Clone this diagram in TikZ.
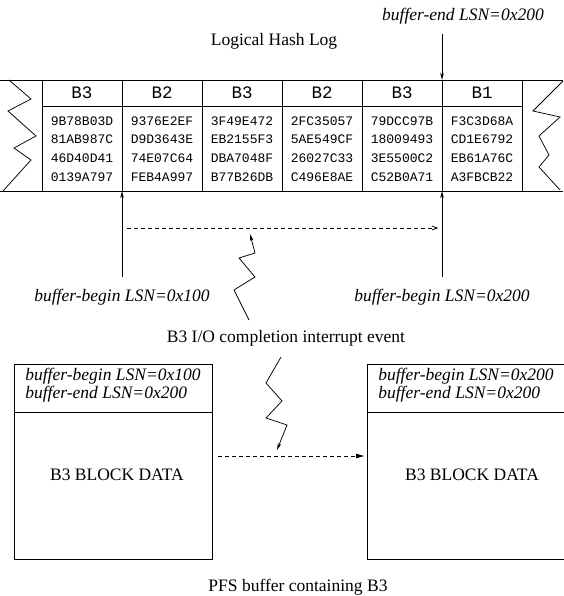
\documentclass[tikz,border=0pt]{standalone}
\usepackage{fontspec}
\setmainfont{Liberation Serif}
\newfontfamily\hexfont{Liberation Mono}
\usetikzlibrary{arrows.meta}
\begin{document}
\begin{tikzpicture}[x=1pt,y=-1pt,line width=0.75pt,
  txt/.style={font=\fontsize{17.5}{17.5}\selectfont,inner sep=0pt},
  itxt/.style={font=\fontsize{17.5}{17.5}\selectfont\itshape,inner sep=0pt},
  hdr/.style={font=\hexfont\fontsize{17.5}{17.5}\selectfont,inner sep=0pt},
  hex/.style={font=\hexfont\fontsize{13}{18.6}\selectfont,inner sep=0pt,align=center},
  openarrow/.style={-{Straight Barb[length=5pt,width=4pt]}},
  thinarrow/.style={-{Stealth[length=7pt,width=3.5pt,inset=2pt]}},
  filledarrow/.style={-{Triangle[length=8pt,width=4.5pt]}},
  dashline/.style={dash pattern=on 4pt off 3pt}]
\useasboundingbox (0,0) rectangle (563,596);

% ---- log strip ----
\draw (0,80) -- (563,80);
\draw (0,191) -- (563,191);
\draw (9,80) -- (31,99) -- (8,111) -- (36,136) -- (14,148) -- (31,160) -- (3,191);
\draw (563,81) -- (533,111) -- (560,117) -- (539,136) -- (549,155) -- (539,167) -- (560,190);
\draw (42,106) -- (522,106);
\foreach \x in {42,122,202,282,362,442,522} \draw (\x,80) -- (\x,191);

% block headers
\node[hdr] (h1) at (82,93) {B3};
\node[hdr] (h2) at (162,93) {B2};
\node[hdr] (h3) at (242,93) {B3};
\node[hdr] (h4) at (322,93) {B2};
\node[hdr] (h5) at (402,93) {B3};
\node[hdr] (h6) at (482,93) {B1};

% hash values
\node[hex] (c1) at (82,149) {9B78B03D\\81AB987C\\46D40D41\\0139A797};
\node[hex] (c2) at (162,149) {9376E2EF\\D9D3643E\\74E07C64\\FEB4A997};
\node[hex] (c3) at (242,149) {3F49E472\\EB2155F3\\DBA7048F\\B77B26DB};
\node[hex] (c4) at (322,149) {2FC35057\\5AE549CF\\26027C33\\C496E8AE};
\node[hex] (c5) at (402,149) {79DCC97B\\18009493\\3E5500C2\\C52B0A71};
\node[hex] (c6) at (482,149) {F3C3D68A\\CD1E6792\\EB61A76C\\A3FBCB22};

\node[txt] (title) at (274,41) {Logical Hash Log};

% buffer end pointer
\node[itxt] (endlbl) at (463,16) {buffer-end LSN=0x200};
\coordinate (endtop) at (442,34);
\coordinate (endtip) at (442,80);
\draw[thinarrow] (endtop) -- (endtip);

% buffer begin pointers
\node[itxt] (beg1) at (122,297) {buffer-begin LSN=0x100};
\node[itxt] (beg2) at (442,297) {buffer-begin LSN=0x200};
\coordinate (b1bot) at (122,277);
\coordinate (b1tip) at (122,191);
\coordinate (b2bot) at (442,277);
\coordinate (b2tip) at (442,191);
\draw[thinarrow] (b1bot) -- (b1tip);
\draw[thinarrow] (b2bot) -- (b2tip);

% advance of the begin pointer
\coordinate (mvA) at (127,228);
\coordinate (mvB) at (438,228);
\draw[dashline,openarrow] (mvA) -- (mvB);

% interrupt lightning bolts
\node[txt] (irq) at (286,338) {B3 I/O completion interrupt event};
\coordinate (z1) at (249,320);
\coordinate (z1tip) at (250,234);
\draw[thinarrow] (z1) -- (234,290) -- (255,277) -- (239,258) -- (255,253) -- (z1tip);
\coordinate (z2) at (281,357);
\coordinate (z2tip) at (277,450);
\draw[thinarrow] (z2) -- (266,383) -- (282,401) -- (266,418) -- (287,425) -- (z2tip);

% PFS buffer before and after
\draw (14,364) rectangle (212,559);
\draw (14,412) -- (212,412);
\draw (367,364) -- (575,364) (367,412) -- (575,412) (367,559) -- (575,559) (367,364) -- (367,559);
\node[itxt,anchor=west,align=left] (lh) at (25,385) {buffer-begin LSN=0x100\\buffer-end LSN=0x200};
\node[itxt,anchor=west,align=left] (rh) at (378,385) {buffer-begin LSN=0x200\\buffer-end LSN=0x200};
\node[txt] (ld) at (117,475) {B3 BLOCK DATA};
\node[txt] (rd) at (472,475) {B3 BLOCK DATA};
\coordinate (cpA) at (218,456);
\coordinate (cpB) at (364,456);
\draw[dashline,filledarrow] (cpA) -- (cpB);

\node[txt] (pfs) at (298,587) {PFS buffer containing B3};
\end{tikzpicture}
\end{document}
